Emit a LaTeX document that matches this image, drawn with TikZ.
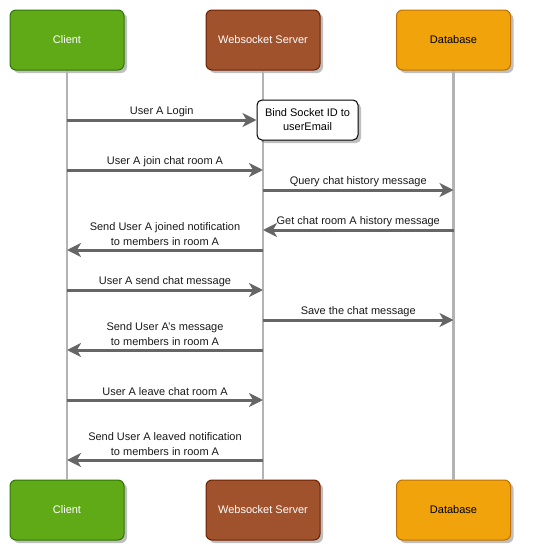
\documentclass[tikz,border=0pt]{standalone}
\usepackage{fontspec}
\setmainfont{Liberation Sans}
\usetikzlibrary{arrows.meta,shadows}
\definecolor{cgreen}{HTML}{60A917}
\definecolor{cgreenD}{HTML}{2D7600}
\definecolor{cbrown}{HTML}{A0522D}
\definecolor{cbrownD}{HTML}{6D1F00}
\definecolor{corange}{HTML}{F0A30A}
\definecolor{corangeD}{HTML}{BD7000}
\definecolor{lifegray}{HTML}{B3B3B3}
\definecolor{arrowgray}{HTML}{666666}
\begin{document}
\begin{tikzpicture}[x=1pt,y=-1pt,
  actor/.style={rounded corners=6pt, minimum width=114pt, minimum height=60pt, line width=1pt,
    font=\fontsize{11}{13}\selectfont, inner sep=0pt,
    drop shadow={shadow xshift=3pt, shadow yshift=-3pt, opacity=0.25, fill=black}},
  notebox/.style={rounded corners=5pt, minimum width=101pt, minimum height=40pt, line width=1pt,
    draw=black, fill=white, align=center, font=\fontsize{11}{14}\selectfont, inner sep=0pt,
    drop shadow={shadow xshift=3pt, shadow yshift=-3pt, opacity=0.25, fill=black}},
  life/.style={draw=lifegray, line width=2.5pt},
  msg/.style={draw=arrowgray, line width=3pt, -{Stealth[length=14pt,width=14pt,inset=4pt]}},
  lbl/.style={font=\fontsize{11}{14.5}\selectfont, align=center, inner sep=0pt, text=black!90}
]
\useasboundingbox (0,0) rectangle (549,554);

% actors top
\node[actor, fill=cgreen, draw=cgreenD, text=white] (c1) at (67,40) {Client};
\node[actor, fill=cbrown, draw=cbrownD, text=white] (s1) at (263,40) {Websocket Server};
\node[actor, fill=corange, draw=corangeD, text=black] (d1) at (453.5,40) {Database};
% actors bottom
\node[actor, fill=cgreen, draw=cgreenD, text=white] (c2) at (67,510) {Client};
\node[actor, fill=cbrown, draw=cbrownD, text=white] (s2) at (263,510) {Websocket Server};
\node[actor, fill=corange, draw=corangeD, text=black] (d2) at (453.5,510) {Database};

% lifelines
\draw[life] (c1) -- (c2);
\draw[life] (s1) -- (s2);
\draw[life] (d1) -- (d2);

% note
\node[notebox] (bind) at (307.5,120) {Bind Socket ID to\\userEmail};

% coordinates on lifelines
\coordinate (cL1) at (67,120);
\coordinate (cL2) at (67,170);
\coordinate (sL2) at (263,170);
\coordinate (sQ) at (263,190);
\coordinate (dQ) at (453.5,190);
\coordinate (dG) at (453.5,230);
\coordinate (sG) at (263,230);
\coordinate (sN1) at (263,250);
\coordinate (cN1) at (67,250);
\coordinate (cS) at (67,290);
\coordinate (sS) at (263,290);
\coordinate (sV) at (263,320);
\coordinate (dV) at (453.5,320);
\coordinate (sM) at (263,350);
\coordinate (cM) at (67,350);
\coordinate (cLv) at (67,400);
\coordinate (sLv) at (263,400);
\coordinate (sN2) at (263,460);
\coordinate (cN2) at (67,460);

% messages
\draw[msg] (cL1) -- (bind.west) node[midway, lbl, yshift=8pt] {User A Login};
\draw[msg] (cL2) -- (sL2) node[midway, lbl, yshift=8pt] {User A join chat room A};
\draw[msg] (sQ) -- (dQ) node[midway, lbl, yshift=8pt] {Query chat history message};
\draw[msg] (dG) -- (sG) node[midway, lbl, yshift=8pt] {Get chat room A history message};
\draw[msg] (sN1) -- (cN1) node[midway, lbl, yshift=16pt] {Send User A joined notification\\to members in room A};
\draw[msg] (cS) -- (sS) node[midway, lbl, yshift=8pt] {User A send chat message};
\draw[msg] (sV) -- (dV) node[midway, lbl, yshift=8pt] {Save the chat message};
\draw[msg] (sM) -- (cM) node[midway, lbl, yshift=16pt] {Send User A's message\\to members in room A};
\draw[msg] (cLv) -- (sLv) node[midway, lbl, yshift=8pt] {User A leave chat room A};
\draw[msg] (sN2) -- (cN2) node[midway, lbl, yshift=16pt] {Send User A leaved notification\\to members in room A};
\end{tikzpicture}
\end{document}
